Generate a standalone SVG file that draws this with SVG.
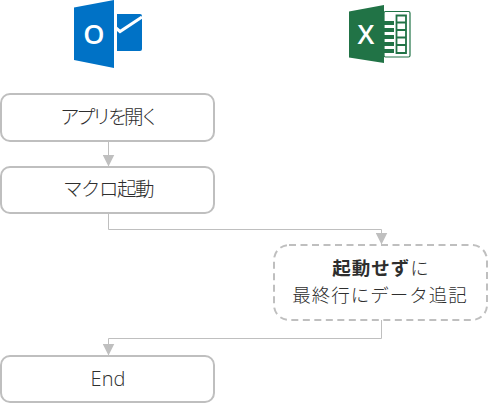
<svg xmlns="http://www.w3.org/2000/svg" width="488" height="405" viewBox="0 0 488 405">
<style>
.box{fill:#fff;stroke:#bfbfbf;stroke-width:2}
.dash{stroke-dasharray:7 4.500}
.line{fill:none;stroke:#bfbfbf;stroke-width:1}
.t{font-family:"Noto Sans CJK JP","Noto Sans",sans-serif;font-size:19.500px;fill:#2e2e2e;text-anchor:middle;font-weight:300}
.b{font-weight:700}
.ol{fill:#0072c6}
.xl{fill:#217346}
.il{font-family:"Open Sans","Liberation Sans",sans-serif;font-weight:700;fill:#fff;text-anchor:middle}
</style>
<defs>
<marker id="a" markerUnits="userSpaceOnUse" markerWidth="13" markerHeight="12" refX="12" refY="6" orient="auto"><path d="M0 0L12 6L0 12z" fill="#bfbfbf"/></marker>
</defs>
<g id="connectors">
<path class="line" d="M108.500 141V166.500" marker-end="url(#a)"/>
<path class="line" d="M108.500 213V229.500H381.500V244.500" marker-end="url(#a)"/>
<path class="line" d="M381.500 320V338.500H108.500V355.500" marker-end="url(#a)"/>
</g>
<g id="outlook">
<path class="ol" d="M74 7.500L114 0V68L74 60z"/>
<path class="ol" d="M117 14H140Q142 14 142 16V49Q142 51 140 51H117z"/>
<path d="M116 28L120 31.500L142 17" fill="none" stroke="#fff" stroke-width="3"/>
<text class="il" x="94" y="44" font-size="27" style="font-weight:600">O</text>
</g>
<g id="excel">
<rect x="384" y="11.500" width="26" height="45.500" rx="1.500" fill="#fff" stroke="#217346" stroke-width="1.200"/>
<path class="xl" d="M384 21H394V25H384zM384 28H394V32H384zM384 35H394V39H384zM384 42H394V46H384zM384 49H394V53H384z"/>
<path d="M396.500 15.500H406V53H396.500zM396.500 22.500H406M396.500 30H406M396.500 37.500H406M396.500 45H406" fill="none" stroke="#217346" stroke-width="1.800"/>
<path class="xl" d="M349 11.500L384 5V63L349 57.500z"/>
<text class="il" x="366" y="44" font-size="27" style="font-weight:600">X</text>
</g>
<g id="node-open">
<rect class="box" x="1" y="94" width="213" height="47" rx="9"/>
<text class="t" x="108" y="124" letter-spacing="-3.500">アプリを開く</text>
</g>
<g id="node-macro">
<rect class="box" x="1" y="167" width="213" height="46" rx="9"/>
<text class="t" x="108" y="196" letter-spacing="-1.500">マクロ起動</text>
</g>
<g id="node-append">
<rect class="box dash" x="274" y="245" width="213" height="75" rx="15"/>
<text class="t" style="font-size:18.500px;letter-spacing:1px"><tspan x="381" y="274.500"><tspan class="b">起動せず</tspan>に</tspan><tspan x="380" y="301.500">最終行にデータ追記</tspan></text>
</g>
<g id="node-end">
<rect class="box" x="1" y="356" width="213" height="46" rx="9"/>
<text class="t" x="108" y="386" style="font-family:'Open Sans',sans-serif;font-size:20px">End</text>
</g>
</svg>
